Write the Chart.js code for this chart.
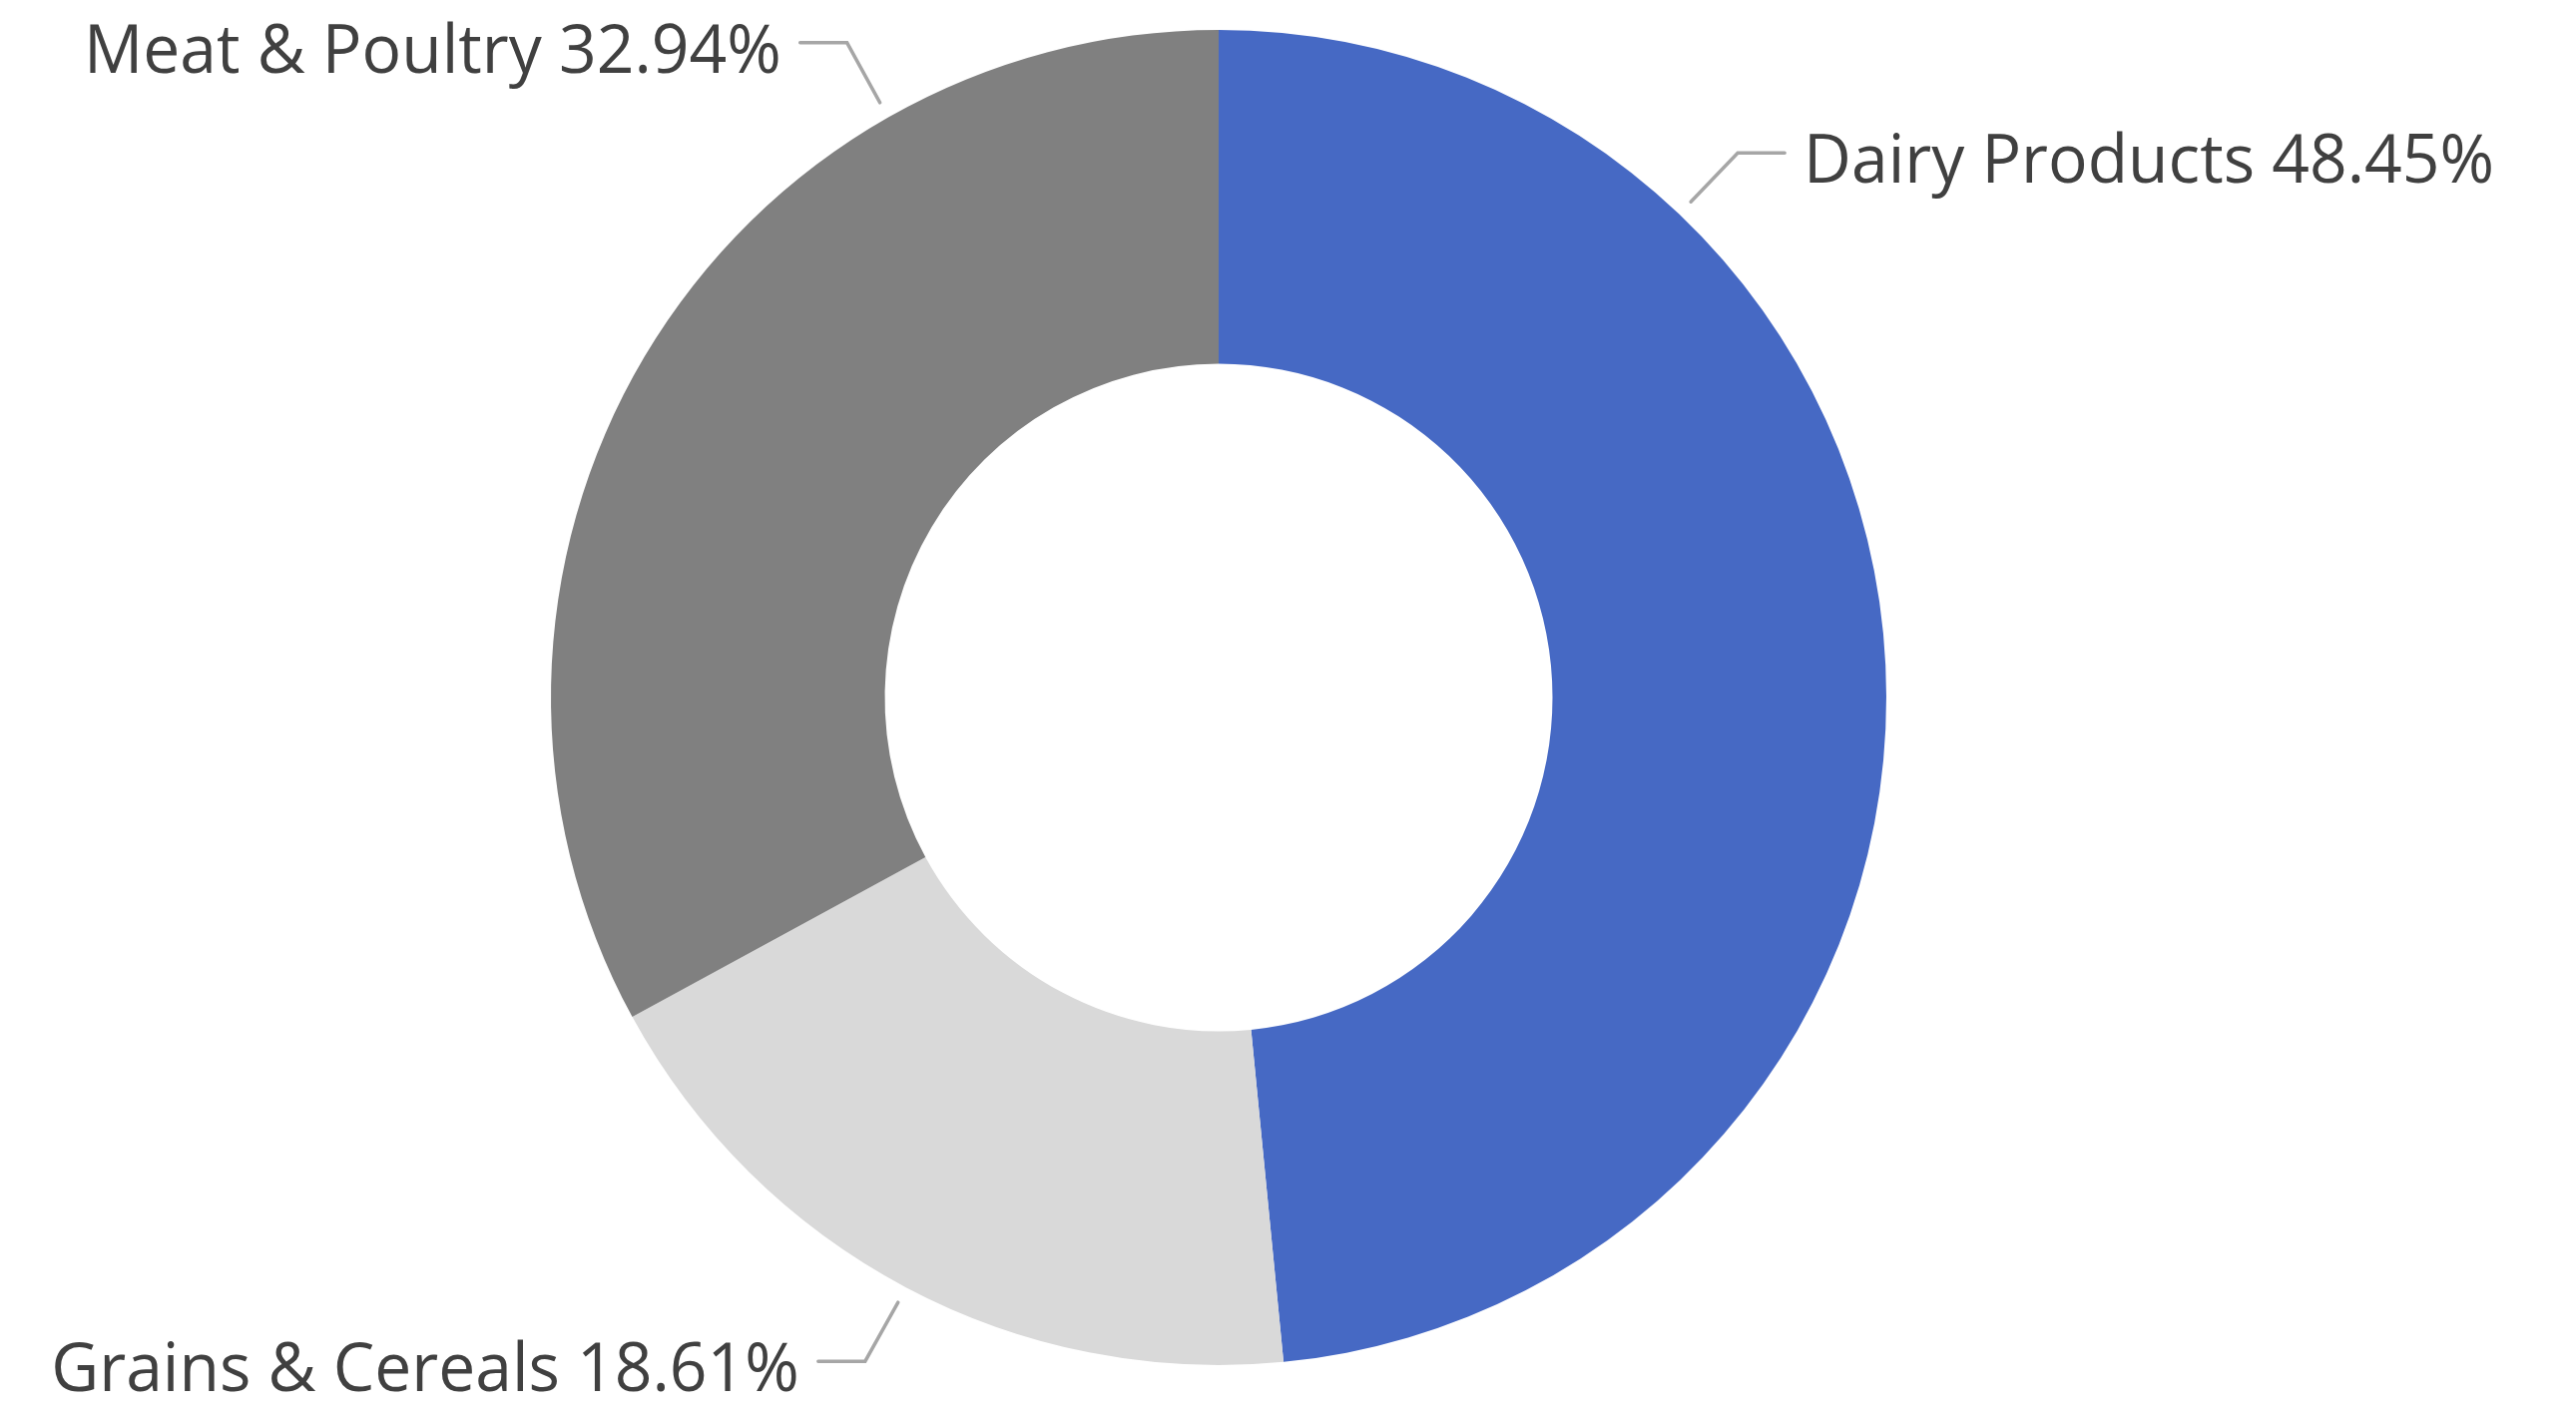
<!DOCTYPE html>
<html>
<head>
<meta charset="utf-8">
<title>Food Categories</title>
<script src="https://cdn.jsdelivr.net/npm/chart.js@4.4.1/dist/chart.umd.min.js"></script>
<style>
    html, body { margin: 0; padding: 0; background: #ffffff; }
    #wrap { width: 2581px; height: 1417px; position: relative; }
</style>
</head>
<body>
<div id="wrap"><canvas id="chart"></canvas></div>
<script>
// Anteile je Kategorie (in Prozent)
const categories = ['Dairy Products', 'Grains & Cereals', 'Meat & Poultry'];
const shares = [48.45, 18.61, 32.94];
const sliceColors = ['#4669C4', '#D9D9D9', '#808080'];

// Lage der Beschriftungen: Ankerpunkt als Anteil des Segmentwinkels,
// Knick der Führungslinie relativ zum Anker, Textseite
const labelAnchor = [0.25, 0.5, 0.75];
const labelElbow = [[47, -49], [-33, 59], [-33, -60]];
const labelSide = ['right', 'left', 'left'];

const LABEL_FONT = '68px "Open Sans", "Noto Sans", sans-serif';
const LABEL_SQUEEZE = 0.97;

// Plugin: Beschriftungen außen mit geknickten Führungslinien
const outsideLabels = {
    id: 'outsideLabels',
    afterDatasetsDraw(chart) {
        const ctx = chart.ctx;
        const meta = chart.getDatasetMeta(0);
        meta.data.forEach((arc, i) => {
            const p = arc.getProps(['x', 'y', 'startAngle', 'endAngle', 'outerRadius'], true);
            const a = p.startAngle + labelAnchor[i] * (p.endAngle - p.startAngle);
            const r = p.outerRadius + 17;
            const x0 = p.x + r * Math.cos(a);
            const y0 = p.y + r * Math.sin(a);
            const x1 = x0 + labelElbow[i][0];
            const y1 = y0 + labelElbow[i][1];
            const dir = labelSide[i] === 'right' ? 1 : -1;
            const x2 = x1 + dir * 47;

            ctx.save();
            ctx.strokeStyle = '#A6A6A6';
            ctx.lineWidth = 3.5;
            ctx.lineCap = 'round';
            ctx.beginPath();
            ctx.moveTo(x0, y0);
            ctx.lineTo(x1, y1);
            ctx.lineTo(x2, y1);
            ctx.stroke();

            const text = categories[i] + ' ' + shares[i].toFixed(2) + '%';
            ctx.font = LABEL_FONT;
            ctx.fillStyle = '#404040';
            ctx.textBaseline = 'alphabetic';
            const tx = x2 + dir * 19;
            ctx.translate(tx, y1 + 30);
            ctx.scale(LABEL_SQUEEZE, 1);
            ctx.textAlign = dir > 0 ? 'left' : 'right';
            ctx.fillText(text, 0, 0);
            ctx.restore();
        });
    }
};

new Chart(document.getElementById('chart'), {
    type: 'doughnut',
    data: {
        labels: categories,
        datasets: [{
            data: shares,
            backgroundColor: sliceColors,
            borderWidth: 0,
            hoverOffset: 0
        }]
    },
    options: {
        responsive: true,
        maintainAspectRatio: false,
        animation: false,
        cutout: '50%',
        layout: {
            padding: { top: 30, bottom: 49, left: 0, right: 139 }
        },
        plugins: {
            legend: { display: false },
            tooltip: { enabled: false }
        }
    },
    plugins: [outsideLabels]
});
</script>
</body>
</html>
